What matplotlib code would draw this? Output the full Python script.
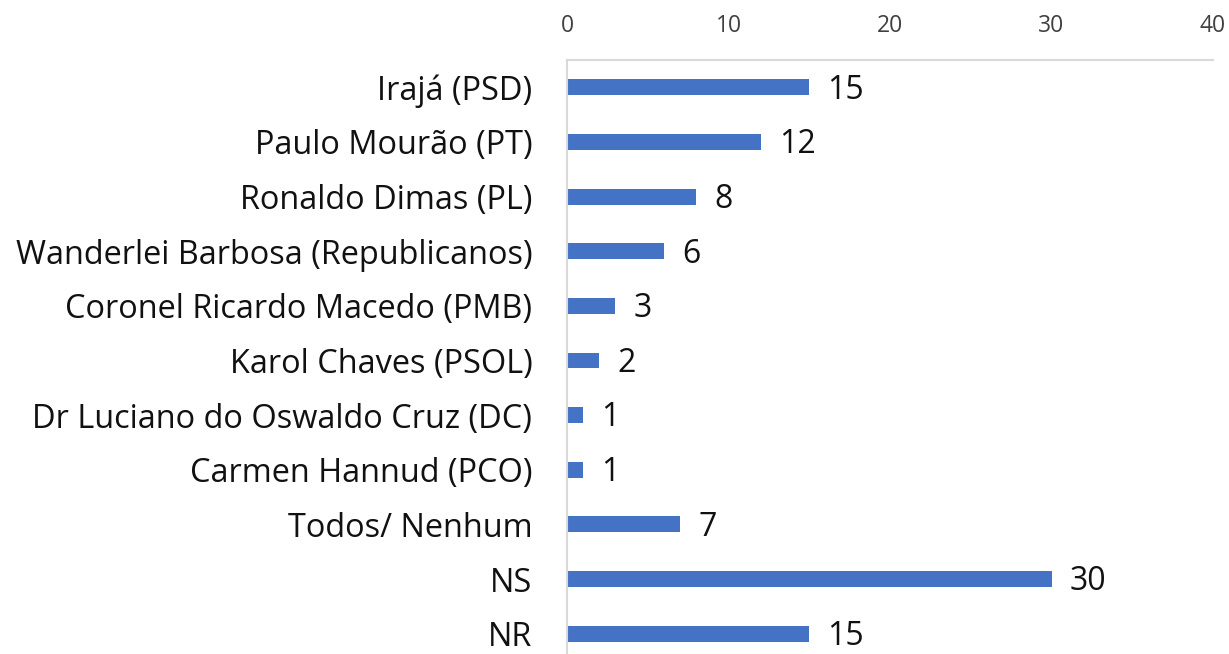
import matplotlib
matplotlib.use("Agg")
import matplotlib.pyplot as plt

categories = ["Irajá (PSD)", "Paulo Mourão (PT)", "Ronaldo Dimas (PL)",
              "Wanderlei Barbosa (Republicanos)", "Coronel Ricardo Macedo (PMB)",
              "Karol Chaves (PSOL)", "Dr Luciano do Oswaldo Cruz (DC)",
              "Carmen Hannud (PCO)", "Todos/ Nenhum", "NS", "NR"]
values = [15, 12, 8, 6, 3, 2, 1, 1, 7, 30, 15]
xticks = [0, 10, 20, 30, 40]

plt.rcParams['font.family'] = ['Open Sans', 'DejaVu Sans']

fig = plt.figure(figsize=(12.29, 6.54), dpi=100)
ax = fig.add_axes([567/1229, 1 - 661/654, (1213-567)/1229, 601/654])
y = list(range(len(categories)))
ax.barh(y, values, height=0.29, color="#4472C4")
ax.set_ylim(len(categories) - 0.5, -0.5)
ax.set_xlim(0, 40)
ax.set_yticks(y)
ax.set_yticklabels(categories, fontsize=23.4, color="#111111")
ax.set_xticks(xticks)
ax.set_xticklabels([str(t) for t in xticks], fontsize=16.5, color="#404040")
ax.xaxis.tick_top()
ax.tick_params(axis='both', length=0)
ax.tick_params(axis='x', pad=15.5)
ax.tick_params(axis='y', pad=25)
for s in ["right", "bottom"]:
    ax.spines[s].set_visible(False)
for s in ["top", "left"]:
    ax.spines[s].set_color("#D9D9D9")
    ax.spines[s].set_linewidth(1.5)
for yi, v in zip(y, values):
    ax.annotate(str(v), (v, yi), xytext=(13, -2), textcoords="offset points",
                va="center", ha="left", fontsize=23, color="#111111")
fig.savefig("out.png", dpi=100)
